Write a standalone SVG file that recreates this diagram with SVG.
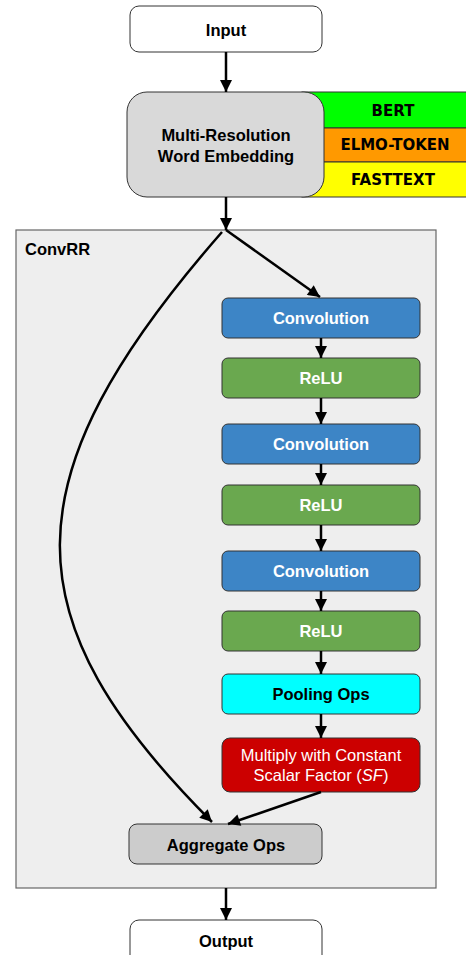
<svg xmlns="http://www.w3.org/2000/svg" width="466" height="955" viewBox="0 0 466 955">
<defs>
<marker id="ah" viewBox="0 0 10 10" refX="10" refY="5" markerWidth="13" markerHeight="12" markerUnits="userSpaceOnUse" orient="auto">
<path d="M0,0 L10,5 L0,10 z" fill="#000"/>
</marker>
</defs>
<style>
.box{stroke:#333;stroke-width:1}
.t{font-family:"Liberation Sans",Arial,sans-serif;font-size:16.5px;font-weight:bold;text-anchor:middle;dominant-baseline:central}
.b{font-family:"DejaVu Sans","Open Sans",sans-serif;font-size:15px;font-weight:bold;text-anchor:middle;dominant-baseline:central;fill:#000}
.w{fill:#fff}
.c{fill:none;stroke:#000;stroke-width:2.5;marker-end:url(#ah)}
</style>
<g id="convrr">
<rect x="16" y="230" width="420" height="658" fill="#eeeeee" stroke="#666" stroke-width="1.2"/>
<text x="25" y="249" class="t" style="text-anchor:start">ConvRR</text>
</g>
<g id="input">
<rect class="box" x="130" y="6" width="192" height="46" rx="9" fill="#fff"/>
<text class="t" x="226" y="30">Input</text>
</g>
<g id="bands">
<rect x="302" y="92" width="166" height="36" fill="#00ff00" stroke="#333" stroke-width="1"/>
<rect x="302" y="128" width="166" height="34" fill="#ff9900" stroke="#333" stroke-width="1"/>
<rect x="302" y="162" width="166" height="35" fill="#ffff00" stroke="#333" stroke-width="1"/>
<text class="b" x="393" y="111">BERT</text>
<text class="b" x="395" y="145">ELMO-TOKEN</text>
<text class="b" x="393" y="180">FASTTEXT</text>
</g>
<g id="embedding">
<rect class="box" x="127" y="92" width="197" height="105" rx="20" fill="#d9d9d9"/>
<text class="t" x="226" y="135">Multi-Resolution</text>
<text class="t" x="226" y="156">Word Embedding</text>
</g>
<g id="conv1"><rect class="box" x="222" y="298" width="198" height="40" rx="6" fill="#3d85c6"/><text class="t w" x="321" y="318">Convolution</text></g>
<g id="relu1"><rect class="box" x="222" y="358" width="198" height="40" rx="6" fill="#6aa84f"/><text class="t w" x="321" y="378">ReLU</text></g>
<g id="conv2"><rect class="box" x="222" y="424" width="198" height="40" rx="6" fill="#3d85c6"/><text class="t w" x="321" y="444">Convolution</text></g>
<g id="relu2"><rect class="box" x="222" y="485" width="198" height="40" rx="6" fill="#6aa84f"/><text class="t w" x="321" y="505">ReLU</text></g>
<g id="conv3"><rect class="box" x="222" y="551" width="198" height="40" rx="6" fill="#3d85c6"/><text class="t w" x="321" y="571">Convolution</text></g>
<g id="relu3"><rect class="box" x="222" y="611" width="198" height="40" rx="6" fill="#6aa84f"/><text class="t w" x="321" y="631">ReLU</text></g>
<g id="pooling"><rect class="box" x="222" y="674" width="198" height="40" rx="6" fill="#00ffff"/><text class="t" x="321" y="694">Pooling Ops</text></g>
<g id="multiply"><rect class="box" x="222" y="738" width="198" height="54" rx="8" fill="#cc0000"/>
<text class="t w" x="321" y="755" style="font-weight:normal">Multiply with Constant</text>
<text class="t w" x="321" y="775" style="font-weight:normal">Scalar Factor (<tspan font-style="italic">SF</tspan>)</text></g>
<g id="aggregate"><rect class="box" x="129" y="824" width="193" height="40" rx="8" fill="#cccccc"/><text class="t" x="226" y="845">Aggregate Ops</text></g>
<g id="output"><rect class="box" x="130" y="920" width="192" height="50" rx="9" fill="#fff"/><text class="t" x="226" y="941">Output</text></g>
<g id="connectors">
<path class="c" d="M226,52 L226,92"/>
<path class="c" d="M226,197 L226,230"/>
<path class="c" d="M226,230 L320,297"/>
<path class="c" d="M222,232 C5,480 10,620 212,822" stroke-width="3.2"/>
<path class="c" d="M321,338 L321,358"/>
<path class="c" d="M321,398 L321,424"/>
<path class="c" d="M321,464 L321,485"/>
<path class="c" d="M321,525 L321,551"/>
<path class="c" d="M321,591 L321,611"/>
<path class="c" d="M321,651 L321,674"/>
<path class="c" d="M321,714 L321,738"/>
<path class="c" d="M321,792 L228,824"/>
<path class="c" d="M226,888 L226,920"/>
</g>
</svg>
